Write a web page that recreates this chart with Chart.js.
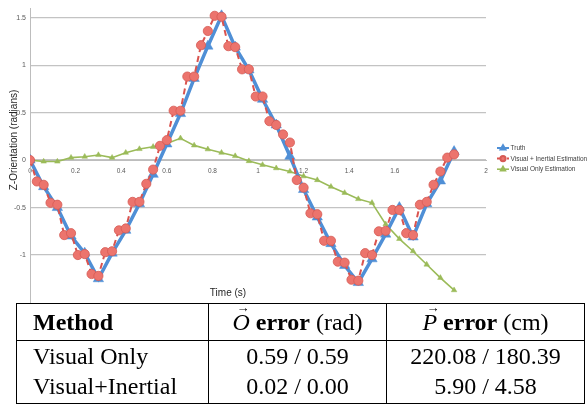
<!DOCTYPE html>
<html>
<head>
<meta charset="utf-8">
<script src="https://cdn.jsdelivr.net/npm/chart.js@4"></script>
<style>
  html, body { margin:0; padding:0; background:#fff; width:587px; height:405px; overflow:hidden; }
  #wrap { position:absolute; left:0; top:0; width:587px; height:312px; }
  table.res { position:absolute; left:16px; top:303px; border-collapse:collapse; background:#fff; z-index:2;
    font-family:"Liberation Serif","Times New Roman",serif; font-size:24px; color:#000; table-layout:fixed; }
  table.res td, table.res th { padding:0; white-space:nowrap; font-weight:normal; }
  table.res tr.h th { height:36px; line-height:36px; border-bottom:1px solid #000; }
  table.res tr.r1 td { height:30px; line-height:30px; vertical-align:top; }
  table.res tr.r2 td { height:32px; line-height:30px; vertical-align:top; }
  table.res .c1 { width:175px; padding-left:16px; text-align:left; border-right:1px solid #000; }
  table.res .c2 { width:177px; text-align:center; border-right:1px solid #000; }
  table.res .c3 { width:197px; text-align:center; }
  table.res { border:1px solid #000; }
  b { font-weight:bold; }
  .vec { position:relative; display:inline-block; font-style:italic; line-height:normal; }
  .vec .arr { position:absolute; left:4px; top:-8px; font-style:normal; font-size:13px; line-height:13px; }
</style>
</head>
<body>
<div id="wrap"><canvas id="c" width="587" height="312"></canvas></div>
<table class="res">
  <tr class="h"><th class="c1"><b>Method</b></th><th class="c2"><span class="vec">O<span class="arr">&#8594;</span></span> <b>error</b> (rad)</th><th class="c3"><span class="vec">P<span class="arr">&#8594;</span></span> <b>error</b> (cm)</th></tr>
  <tr class="r1"><td class="c1">Visual Only</td><td class="c2">0.59 / 0.59</td><td class="c3">220.08 / 180.39</td></tr>
  <tr class="r2"><td class="c1">Visual+Inertial</td><td class="c2">0.02 / 0.00</td><td class="c3">5.90 / 4.58</td></tr>
</table>
<script>
// ---- data ----
const seriesNames = ["Truth", "Visual + Inertial Estimation", "Visual Only Estimation"];

const truthTime = [0,0.06,0.12,0.18,0.24,0.30,0.36,0.42,0.48,0.54,0.60,0.66,0.72,0.78,0.84,0.90,
                   0.96,1.02,1.08,1.14,1.20,1.26,1.32,1.38,1.44,1.50,1.56,1.62,1.68,1.74,1.80,1.86];
const truthValues = [0,-0.28,-0.50,-0.80,-0.98,-1.25,-0.98,-0.74,-0.46,-0.15,0.17,0.49,0.86,1.20,1.52,1.19,
                     0.95,0.64,0.37,0.04,-0.31,-0.60,-0.88,-1.11,-1.29,-1.04,-0.78,-0.50,-0.81,-0.46,-0.22,0.09];

const estTime = [0,0.03,0.06,0.09,0.12,0.15,0.18,0.21,0.24,0.27,0.30,0.33,0.36,0.39,0.42,0.45,0.48,0.51,0.54,0.57,
                 0.60,0.63,0.66,0.69,0.72,0.75,0.78,0.81,0.84,0.87,0.90,0.93,0.96,0.99,1.02,1.05,1.08,1.11,1.14,
                 1.17,1.20,1.23,1.26,1.29,1.32,1.35,1.38,1.41,1.44,1.47,1.50,1.53,1.56,1.59,1.62,1.65,1.68,1.71,
                 1.74,1.77,1.80,1.83,1.86];
const estValues = [0,-0.225,-0.26,-0.45,-0.47,-0.79,-0.77,-1.00,-0.99,-1.20,-1.22,-0.97,-0.96,-0.74,-0.72,-0.44,-0.44,-0.25,-0.10,0.15,
                   0.21,0.52,0.52,0.88,0.88,1.21,1.36,1.52,1.51,1.20,1.19,0.956,0.956,0.67,0.67,0.41,0.37,0.27,0.185,
                   -0.21,-0.29,-0.56,-0.57,-0.85,-0.85,-1.07,-1.08,-1.26,-1.27,-0.98,-1.00,-0.75,-0.745,-0.525,-0.525,-0.77,-0.79,-0.47,
                   -0.44,-0.26,-0.12,0.026,0.06];

const visualTime = [0,0.06,0.12,0.18,0.24,0.30,0.36,0.42,0.48,0.54,0.60,0.66,0.72,0.78,0.84,0.90,
                    0.96,1.02,1.08,1.14,1.20,1.26,1.32,1.38,1.44,1.50,1.56,1.62,1.68,1.74,1.80,1.86];
const visualValues = [0,-0.015,-0.015,0.026,0.036,0.054,0.026,0.078,0.117,0.14,0.175,0.23,0.155,0.114,0.078,0.043,
                      -0.01,-0.05,-0.085,-0.12,-0.17,-0.21,-0.28,-0.345,-0.41,-0.45,-0.675,-0.83,-0.96,-1.10,-1.24,-1.37];

const xTickValues = [0,0.2,0.4,0.6,0.8,1,1.2,1.4,1.6,1.8,2];
const xTickLabels = ["0","0.2","0.4","0.6","0.8","1","1.2","1.4","1.6","1.8","2"];
const yTickValues = [-1,-0.5,0,0.5,1,1.5];
const yTickLabels = ["-1","-0.5","0","0.5","1","1.5"];

const xTitle = "Time (s)";
const yTitle = "Z-Orientation (radians)";

function pts(t, v) { return t.map((x, i) => ({x: x, y: v[i]})); }

const legendPlugin = {
  id: 'excelLegend',
  afterDraw(chart) {
    const ctx = chart.ctx;
    const ds = chart.data.datasets;
    ctx.save();
    ds.forEach((d, i) => {
      const y = 148 + i * 10.6;
      ctx.strokeStyle = d.borderColor;
      ctx.lineWidth = Math.min(d.borderWidth, 2);
      ctx.setLineDash(d.borderDash ? [3, 2] : []);
      ctx.beginPath(); ctx.moveTo(497, y); ctx.lineTo(509, y); ctx.stroke();
      ctx.setLineDash([]);
      ctx.fillStyle = d.pointBackgroundColor;
      ctx.strokeStyle = d.pointBorderColor;
      Chart.helpers.drawPoint(ctx, {pointStyle: d.pointStyle, radius: d.pointStyle === 'circle' ? 2.6 : 2.8, rotation: 0, borderWidth: 0.5}, 503, y);
      ctx.fillStyle = '#404040';
      ctx.font = '6.5px "Liberation Sans", Arial, sans-serif';
      ctx.textBaseline = 'middle';
      ctx.textAlign = 'left';
      ctx.fillText(d.label, 510.5, y + 0.5);
    });
    ctx.restore();
  }
};

const titlePlugin = {
  id: 'axisTitles',
  afterDraw(chart) {
    const ctx = chart.ctx;
    ctx.save();
    ctx.fillStyle = '#262626';
    ctx.font = '10px "Liberation Sans", Arial, sans-serif';
    ctx.textAlign = 'center';
    ctx.textBaseline = 'middle';
    ctx.fillText(xTitle, 228, 293);
    ctx.translate(14, 140);
    ctx.rotate(-Math.PI / 2);
    ctx.fillText(yTitle, 0, 0);
    ctx.restore();
  }
};

new Chart(document.getElementById('c'), {
  type: 'line',
  data: {
    datasets: [
      {
        label: seriesNames[0], data: pts(truthTime, truthValues), order: 2,
        borderColor: '#4f8fd6', backgroundColor: '#4f8fd6', borderWidth: 3.5,
        pointStyle: 'triangle', pointRadius: 6, pointBackgroundColor: '#4f8fd6', pointBorderColor: '#4f8fd6', pointBorderWidth: 0.5,
        tension: 0, fill: false
      },
      {
        label: seriesNames[1], data: pts(estTime, estValues), order: 1,
        borderColor: '#d9534f', backgroundColor: '#ec746d', borderWidth: 2, borderDash: [6, 4],
        pointStyle: 'circle', pointRadius: 4.6, pointBackgroundColor: '#ec746d', pointBorderColor: '#d65a54', pointBorderWidth: 0.8,
        tension: 0, fill: false
      },
      {
        label: seriesNames[2], data: pts(visualTime, visualValues), order: 3,
        borderColor: '#9bbb59', backgroundColor: '#9bbb59', borderWidth: 1.6,
        pointStyle: 'triangle', pointRadius: 3.2, pointBackgroundColor: '#9bbb59', pointBorderColor: '#9bbb59', pointBorderWidth: 0.5,
        tension: 0, fill: false
      }
    ]
  },
  options: {
    responsive: false, animation: false, devicePixelRatio: 1,
    layout: { padding: { left: 0, right: 101, top: 5, bottom: 9.5 } },
    plugins: { legend: { display: false }, tooltip: { enabled: false }, title: { display: false } },
    scales: {
      x: {
        type: 'linear', min: 0, max: 2,
        position: { y: 0 },
        afterBuildTicks(scale) { scale.ticks = xTickValues.map(v => ({value: v})); },
        ticks: {
          padding: 7, color: '#595959', maxRotation: 0, autoSkip: false,
          font: { family: '"Liberation Sans", Arial, sans-serif', size: 6.5 },
          callback: (v) => { const i = xTickValues.indexOf(v); return i >= 0 ? xTickLabels[i] : ''; }
        },
        grid: { display: false, drawTicks: false },
        border: { display: true, color: '#bdbdbd', width: 1 }
      },
      y: {
        type: 'linear', min: -1.5, max: 1.6,
        afterBuildTicks(scale) { scale.ticks = yTickValues.map(v => ({value: v})); },
        afterFit(scale) { scale.width = 30; },
        ticks: {
          padding: 4, color: '#595959',
          font: { family: '"Liberation Sans", Arial, sans-serif', size: 7 },
          callback: (v) => { const i = yTickValues.indexOf(v); return i >= 0 ? yTickLabels[i] : ''; }
        },
        grid: { color: '#c3c3c3', lineWidth: 1.2, drawTicks: false },
        border: { display: true, color: '#bdbdbd', width: 1 }
      }
    }
  },
  plugins: [legendPlugin, titlePlugin]
});
</script>
</body>
</html>
